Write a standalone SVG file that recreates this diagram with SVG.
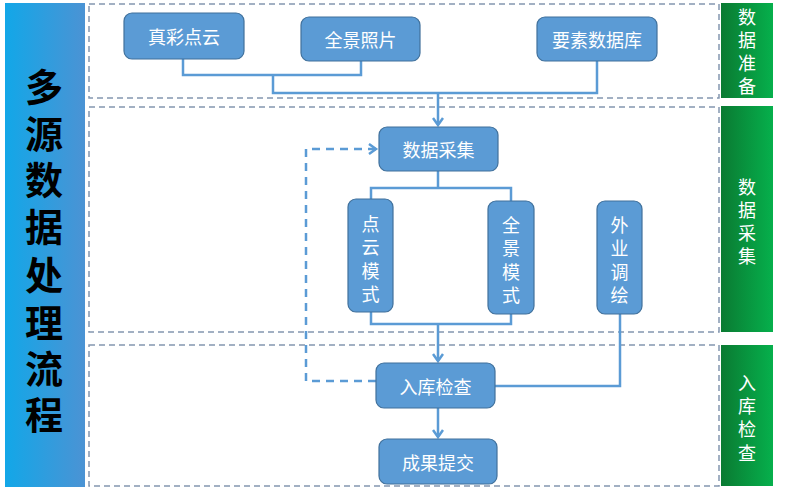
<svg xmlns="http://www.w3.org/2000/svg" width="810" height="489" viewBox="0 0 810 489">
<defs>
<linearGradient id="gBlue" x1="0" y1="0" x2="1" y2="0">
<stop offset="0" stop-color="#12a7e8"/><stop offset="1" stop-color="#4b93d4"/>
</linearGradient>
<linearGradient id="gGreen" x1="0" y1="0" x2="1" y2="0">
<stop offset="0" stop-color="#0a7a32"/><stop offset="1" stop-color="#06b04c"/>
</linearGradient>
<marker id="arr" markerWidth="12" markerHeight="12" refX="9" refY="6" orient="auto" markerUnits="userSpaceOnUse">
<path d="M2,1 L9,6 L2,11" fill="none" stroke="#5b9bd5" stroke-width="2.5"/>
</marker>
</defs>
<style>
.sec{fill:none;stroke:#8497b0;stroke-width:1.5;stroke-dasharray:6,4}
.node rect{fill:#5b9bd5;stroke:#41719c;stroke-width:1.2}
.node text{fill:#fff;font-family:"Noto Sans CJK SC","Noto Sans",sans-serif;font-size:18px;text-anchor:middle;dominant-baseline:central}
.lab text{fill:#fff;font-family:"Noto Sans CJK SC",sans-serif;font-size:18px;text-anchor:middle;dominant-baseline:central}
.ln{fill:none;stroke:#5b9bd5;stroke-width:2.5}
.dash{fill:none;stroke:#5b9bd5;stroke-width:2.5;stroke-dasharray:8,6}
.title{fill:#000;font-family:"Noto Sans CJK SC",sans-serif;font-size:38px;font-weight:bold;text-anchor:middle;dominant-baseline:central}
</style>
<rect width="810" height="489" fill="#fff"/>
<g id="titlebar">
<rect x="5" y="3" width="80" height="484" fill="url(#gBlue)"/>
<text class="title" x="44" y="84">多</text>
<text class="title" x="44" y="131">源</text>
<text class="title" x="44" y="177">数</text>
<text class="title" x="44" y="224">据</text>
<text class="title" x="44" y="272">处</text>
<text class="title" x="44" y="320">理</text>
<text class="title" x="44" y="366">流</text>
<text class="title" x="44" y="412">程</text>
</g>
<g id="sections">
<rect class="sec" x="89" y="4" width="630" height="94"/>
<rect class="sec" x="89" y="107" width="630" height="225"/>
<rect class="sec" x="89" y="345" width="630" height="141"/>
</g>
<g id="label-prep" class="lab">
<rect x="721" y="3" width="52" height="95" fill="url(#gGreen)"/>
<text x="747" y="16">数</text><text x="747" y="39">据</text><text x="747" y="62">准</text><text x="747" y="85">备</text>
</g>
<g id="label-collect" class="lab">
<rect x="721" y="106" width="52" height="226" fill="url(#gGreen)"/>
<text x="747" y="186">数</text><text x="747" y="209">据</text><text x="747" y="232">采</text><text x="747" y="255">集</text>
</g>
<g id="label-check" class="lab">
<rect x="721" y="345" width="52" height="141" fill="url(#gGreen)"/>
<text x="747" y="382">入</text><text x="747" y="405">库</text><text x="747" y="428">检</text><text x="747" y="452">查</text>
</g>
<g id="connectors">
<path class="ln" d="M183,59 V75 H361 V61"/>
<path class="ln" d="M273,75 V93 H597 V61"/>
<path class="ln" d="M438,93 V125" marker-end="url(#arr)"/>
<path class="ln" d="M438,171 V188"/>
<path class="ln" d="M371,199 V188 H511 V201"/>
<path class="ln" d="M371,312 V324 H511 V314"/>
<path class="ln" d="M438,324 V361" marker-end="url(#arr)"/>
<path class="ln" d="M620,314 V386 H495"/>
<path class="ln" d="M438,408 V437" marker-end="url(#arr)"/>
<path class="dash" d="M376,381 H306 V149 H376" marker-end="url(#arr)"/>
</g>
<g id="n-zcdy" class="node"><rect x="124" y="13" width="120" height="46" rx="8"/><text x="184" y="36">真彩点云</text></g>
<g id="n-qjzp" class="node"><rect x="301" y="17" width="119" height="44" rx="8"/><text x="360.5" y="39">全景照片</text></g>
<g id="n-ysk" class="node"><rect x="537" y="17" width="120" height="44" rx="8"/><text x="597" y="39">要素数据库</text></g>
<g id="n-sjcj" class="node"><rect x="379" y="127" width="119" height="44" rx="8"/><text x="438.5" y="149">数据采集</text></g>
<g id="n-dyms" class="node"><rect x="348" y="199" width="45" height="113" rx="8"/>
<text x="370.5" y="223">点</text><text x="370.5" y="246">云</text><text x="370.5" y="270">模</text><text x="370.5" y="293">式</text></g>
<g id="n-qjms" class="node"><rect x="488" y="201" width="46" height="113" rx="8"/>
<text x="511" y="224">全</text><text x="511" y="247">景</text><text x="511" y="271">模</text><text x="511" y="294">式</text></g>
<g id="n-wydh" class="node"><rect x="597" y="201" width="45" height="113" rx="8"/>
<text x="619.5" y="224">外</text><text x="619.5" y="247">业</text><text x="619.5" y="271">调</text><text x="619.5" y="294">绘</text></g>
<g id="n-rkjc" class="node"><rect x="376" y="363" width="119" height="45" rx="8"/><text x="435.5" y="386">入库检查</text></g>
<g id="n-cgtj" class="node"><rect x="379" y="439" width="118" height="45" rx="8"/><text x="438" y="462">成果提交</text></g>
</svg>
